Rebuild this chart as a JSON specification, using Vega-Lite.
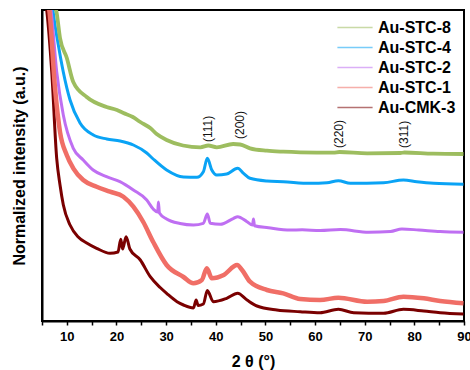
{
  "$schema": "https://vega.github.io/schema/vega-lite/v6.json",
  "width": 422,
  "height": 311,
  "autosize": {"type": "none"},
  "padding": {"left": 42, "top": 10, "right": 6, "bottom": 49},
  "background": "white",
  "config": {
    "font": "Liberation Sans",
    "view": {"stroke": "black", "strokeWidth": 2},
    "axis": {"grid": false, "domainColor": "black", "domainWidth": 2, "tickColor": "black", "labelColor": "black", "titleColor": "black"}
  },
  "datasets": {
    "curves": [
      {"series": "Au-STC-8", "theta": 7.2, "intensity": 321},
      {"series": "Au-STC-8", "theta": 7.96, "intensity": 308},
      {"series": "Au-STC-8", "theta": 8.63, "intensity": 283},
      {"series": "Au-STC-8", "theta": 10.0, "intensity": 263},
      {"series": "Au-STC-8", "theta": 11.3, "intensity": 239},
      {"series": "Au-STC-8", "theta": 14.0, "intensity": 224},
      {"series": "Au-STC-8", "theta": 18.0, "intensity": 214},
      {"series": "Au-STC-8", "theta": 20.1, "intensity": 211},
      {"series": "Au-STC-8", "theta": 21.4, "intensity": 208},
      {"series": "Au-STC-8", "theta": 23.3, "intensity": 204},
      {"series": "Au-STC-8", "theta": 24.8, "intensity": 199},
      {"series": "Au-STC-8", "theta": 26.8, "intensity": 193},
      {"series": "Au-STC-8", "theta": 28.1, "intensity": 187},
      {"series": "Au-STC-8", "theta": 30.1, "intensity": 181},
      {"series": "Au-STC-8", "theta": 33.4, "intensity": 175.5},
      {"series": "Au-STC-8", "theta": 36.9, "intensity": 173.7},
      {"series": "Au-STC-8", "theta": 38.5, "intensity": 175.5},
      {"series": "Au-STC-8", "theta": 40.2, "intensity": 173.7},
      {"series": "Au-STC-8", "theta": 43.5, "intensity": 177},
      {"series": "Au-STC-8", "theta": 44.9, "intensity": 176.5},
      {"series": "Au-STC-8", "theta": 46.9, "intensity": 172.7},
      {"series": "Au-STC-8", "theta": 50.3, "intensity": 170.3},
      {"series": "Au-STC-8", "theta": 53.6, "intensity": 169.3},
      {"series": "Au-STC-8", "theta": 57.0, "intensity": 168.7},
      {"series": "Au-STC-8", "theta": 63.7, "intensity": 168.3},
      {"series": "Au-STC-8", "theta": 64.9, "intensity": 169},
      {"series": "Au-STC-8", "theta": 70.5, "intensity": 167.7},
      {"series": "Au-STC-8", "theta": 77.2, "intensity": 168},
      {"series": "Au-STC-8", "theta": 78.0, "intensity": 168.5},
      {"series": "Au-STC-8", "theta": 83.8, "intensity": 167.3},
      {"series": "Au-STC-8", "theta": 89.9, "intensity": 167},

      {"series": "Au-STC-4", "theta": 7.0, "intensity": 321},
      {"series": "Au-STC-4", "theta": 7.28, "intensity": 308},
      {"series": "Au-STC-4", "theta": 8.29, "intensity": 276},
      {"series": "Au-STC-4", "theta": 9.29, "intensity": 249},
      {"series": "Au-STC-4", "theta": 10.65, "intensity": 221},
      {"series": "Au-STC-4", "theta": 12.66, "intensity": 198},
      {"series": "Au-STC-4", "theta": 15.34, "intensity": 186},
      {"series": "Au-STC-4", "theta": 18.04, "intensity": 182},
      {"series": "Au-STC-4", "theta": 20.73, "intensity": 180},
      {"series": "Au-STC-4", "theta": 23.41, "intensity": 176},
      {"series": "Au-STC-4", "theta": 26.1, "intensity": 168},
      {"series": "Au-STC-4", "theta": 27.4, "intensity": 162},
      {"series": "Au-STC-4", "theta": 30.1, "intensity": 151},
      {"series": "Au-STC-4", "theta": 33.5, "intensity": 144},
      {"series": "Au-STC-4", "theta": 36.2, "intensity": 143.7},
      {"series": "Au-STC-4", "theta": 37.5, "intensity": 149.3},
      {"series": "Au-STC-4", "theta": 38.3, "intensity": 162.7},
      {"series": "Au-STC-4", "theta": 39.2, "intensity": 151},
      {"series": "Au-STC-4", "theta": 40.2, "intensity": 146},
      {"series": "Au-STC-4", "theta": 42.2, "intensity": 147},
      {"series": "Au-STC-4", "theta": 44.4, "intensity": 152.7},
      {"series": "Au-STC-4", "theta": 45.6, "intensity": 147.7},
      {"series": "Au-STC-4", "theta": 46.9, "intensity": 142.7},
      {"series": "Au-STC-4", "theta": 50.3, "intensity": 140},
      {"series": "Au-STC-4", "theta": 53.6, "intensity": 139.3},
      {"series": "Au-STC-4", "theta": 59.0, "intensity": 137.7},
      {"series": "Au-STC-4", "theta": 62.4, "intensity": 138.3},
      {"series": "Au-STC-4", "theta": 64.7, "intensity": 140.3},
      {"series": "Au-STC-4", "theta": 67.1, "intensity": 137.7},
      {"series": "Au-STC-4", "theta": 73.8, "intensity": 138.3},
      {"series": "Au-STC-4", "theta": 77.8, "intensity": 141},
      {"series": "Au-STC-4", "theta": 80.5, "intensity": 139.3},
      {"series": "Au-STC-4", "theta": 83.9, "intensity": 137.7},
      {"series": "Au-STC-4", "theta": 89.9, "intensity": 136.7},

      {"series": "Au-STC-2", "theta": 6.5, "intensity": 321},
      {"series": "Au-STC-2", "theta": 6.81, "intensity": 311},
      {"series": "Au-STC-2", "theta": 7.96, "intensity": 249.3},
      {"series": "Au-STC-2", "theta": 9.29, "intensity": 206},
      {"series": "Au-STC-2", "theta": 11.3, "intensity": 172.7},
      {"series": "Au-STC-2", "theta": 13.3, "intensity": 161},
      {"series": "Au-STC-2", "theta": 15.3, "intensity": 151},
      {"series": "Au-STC-2", "theta": 18.0, "intensity": 144.3},
      {"series": "Au-STC-2", "theta": 20.7, "intensity": 139.3},
      {"series": "Au-STC-2", "theta": 23.4, "intensity": 131},
      {"series": "Au-STC-2", "theta": 26.1, "intensity": 121},
      {"series": "Au-STC-2", "theta": 27.4, "intensity": 112},
      {"series": "Au-STC-2", "theta": 28.3, "intensity": 109},
      {"series": "Au-STC-2", "theta": 28.45, "intensity": 119},
      {"series": "Au-STC-2", "theta": 28.65, "intensity": 108},
      {"series": "Au-STC-2", "theta": 30.1, "intensity": 102},
      {"series": "Au-STC-2", "theta": 32.8, "intensity": 97.5},
      {"series": "Au-STC-2", "theta": 35.5, "intensity": 96},
      {"series": "Au-STC-2", "theta": 37.5, "intensity": 97.7},
      {"series": "Au-STC-2", "theta": 38.3, "intensity": 107},
      {"series": "Au-STC-2", "theta": 38.9, "intensity": 97.7},
      {"series": "Au-STC-2", "theta": 40.9, "intensity": 96.7},
      {"series": "Au-STC-2", "theta": 43.6, "intensity": 102.7},
      {"series": "Au-STC-2", "theta": 44.4, "intensity": 104.3},
      {"series": "Au-STC-2", "theta": 46.3, "intensity": 99.3},
      {"series": "Au-STC-2", "theta": 47.4, "intensity": 96},
      {"series": "Au-STC-2", "theta": 47.6, "intensity": 102},
      {"series": "Au-STC-2", "theta": 47.8, "intensity": 95.3},
      {"series": "Au-STC-2", "theta": 50.6, "intensity": 93.3},
      {"series": "Au-STC-2", "theta": 55.0, "intensity": 91},
      {"series": "Au-STC-2", "theta": 57.4, "intensity": 91.2},
      {"series": "Au-STC-2", "theta": 61.0, "intensity": 90.5},
      {"series": "Au-STC-2", "theta": 65.1, "intensity": 91.5},
      {"series": "Au-STC-2", "theta": 70.8, "intensity": 88.7},
      {"series": "Au-STC-2", "theta": 75.2, "intensity": 89.5},
      {"series": "Au-STC-2", "theta": 77.5, "intensity": 92},
      {"series": "Au-STC-2", "theta": 80.9, "intensity": 91},
      {"series": "Au-STC-2", "theta": 85.2, "intensity": 89.5},
      {"series": "Au-STC-2", "theta": 89.9, "intensity": 88.7},

      {"series": "Au-STC-1", "theta": 6.1, "intensity": 321},
      {"series": "Au-STC-1", "theta": 6.47, "intensity": 311},
      {"series": "Au-STC-1", "theta": 7.62, "intensity": 233},
      {"series": "Au-STC-1", "theta": 8.63, "intensity": 189},
      {"series": "Au-STC-1", "theta": 9.98, "intensity": 166},
      {"series": "Au-STC-1", "theta": 11.3, "intensity": 152.7},
      {"series": "Au-STC-1", "theta": 13.3, "intensity": 141},
      {"series": "Au-STC-1", "theta": 16.0, "intensity": 134.3},
      {"series": "Au-STC-1", "theta": 18.7, "intensity": 129.3},
      {"series": "Au-STC-1", "theta": 21.4, "intensity": 124.3},
      {"series": "Au-STC-1", "theta": 23.4, "intensity": 114.3},
      {"series": "Au-STC-1", "theta": 25.4, "intensity": 99},
      {"series": "Au-STC-1", "theta": 27.4, "intensity": 79},
      {"series": "Au-STC-1", "theta": 30.1, "intensity": 56},
      {"series": "Au-STC-1", "theta": 33.5, "intensity": 44},
      {"series": "Au-STC-1", "theta": 35.5, "intensity": 37.7},
      {"series": "Au-STC-1", "theta": 37.2, "intensity": 41},
      {"series": "Au-STC-1", "theta": 38.2, "intensity": 52.7},
      {"series": "Au-STC-1", "theta": 39.2, "intensity": 42.7},
      {"series": "Au-STC-1", "theta": 41.6, "intensity": 46},
      {"series": "Au-STC-1", "theta": 44.3, "intensity": 56},
      {"series": "Au-STC-1", "theta": 45.3, "intensity": 51},
      {"series": "Au-STC-1", "theta": 46.9, "intensity": 39.3},
      {"series": "Au-STC-1", "theta": 50.3, "intensity": 31},
      {"series": "Au-STC-1", "theta": 53.6, "intensity": 27.7},
      {"series": "Au-STC-1", "theta": 57.0, "intensity": 22},
      {"series": "Au-STC-1", "theta": 61.0, "intensity": 21},
      {"series": "Au-STC-1", "theta": 64.7, "intensity": 23.3},
      {"series": "Au-STC-1", "theta": 70.5, "intensity": 19.3},
      {"series": "Au-STC-1", "theta": 73.8, "intensity": 20},
      {"series": "Au-STC-1", "theta": 77.8, "intensity": 24.3},
      {"series": "Au-STC-1", "theta": 81.9, "intensity": 22.7},
      {"series": "Au-STC-1", "theta": 85.2, "intensity": 20},
      {"series": "Au-STC-1", "theta": 89.9, "intensity": 17.7},

      {"series": "Au-CMK-3", "theta": 5.7, "intensity": 321},
      {"series": "Au-CMK-3", "theta": 5.95, "intensity": 311},
      {"series": "Au-CMK-3", "theta": 6.96, "intensity": 249.3},
      {"series": "Au-CMK-3", "theta": 7.96, "intensity": 162.7},
      {"series": "Au-CMK-3", "theta": 8.63, "intensity": 136},
      {"series": "Au-CMK-3", "theta": 9.3, "intensity": 116},
      {"series": "Au-CMK-3", "theta": 10.65, "intensity": 96},
      {"series": "Au-CMK-3", "theta": 12.3, "intensity": 84},
      {"series": "Au-CMK-3", "theta": 14.0, "intensity": 78},
      {"series": "Au-CMK-3", "theta": 16.0, "intensity": 72.7},
      {"series": "Au-CMK-3", "theta": 18.7, "intensity": 67.7},
      {"series": "Au-CMK-3", "theta": 20.3, "intensity": 69},
      {"series": "Au-CMK-3", "theta": 20.87, "intensity": 81.7},
      {"series": "Au-CMK-3", "theta": 21.23, "intensity": 72},
      {"series": "Au-CMK-3", "theta": 21.94, "intensity": 84.3},
      {"series": "Au-CMK-3", "theta": 22.7, "intensity": 72},
      {"series": "Au-CMK-3", "theta": 24.8, "intensity": 61},
      {"series": "Au-CMK-3", "theta": 26.8, "intensity": 44.3},
      {"series": "Au-CMK-3", "theta": 28.8, "intensity": 33.5},
      {"series": "Au-CMK-3", "theta": 30.1, "intensity": 27.7},
      {"series": "Au-CMK-3", "theta": 32.2, "intensity": 19.3},
      {"series": "Au-CMK-3", "theta": 33.5, "intensity": 16},
      {"series": "Au-CMK-3", "theta": 35.5, "intensity": 13},
      {"series": "Au-CMK-3", "theta": 36.05, "intensity": 21},
      {"series": "Au-CMK-3", "theta": 36.45, "intensity": 15.5},
      {"series": "Au-CMK-3", "theta": 37.5, "intensity": 17},
      {"series": "Au-CMK-3", "theta": 38.3, "intensity": 30.5},
      {"series": "Au-CMK-3", "theta": 39.5, "intensity": 19.3},
      {"series": "Au-CMK-3", "theta": 42.2, "intensity": 22.7},
      {"series": "Au-CMK-3", "theta": 44.4, "intensity": 27.7},
      {"series": "Au-CMK-3", "theta": 46.3, "intensity": 21},
      {"series": "Au-CMK-3", "theta": 48.3, "intensity": 15},
      {"series": "Au-CMK-3", "theta": 52.3, "intensity": 11},
      {"series": "Au-CMK-3", "theta": 57.0, "intensity": 9.3},
      {"series": "Au-CMK-3", "theta": 61.0, "intensity": 8.3},
      {"series": "Au-CMK-3", "theta": 64.7, "intensity": 11.7},
      {"series": "Au-CMK-3", "theta": 67.8, "intensity": 8.3},
      {"series": "Au-CMK-3", "theta": 73.8, "intensity": 7.7},
      {"series": "Au-CMK-3", "theta": 77.8, "intensity": 11.7},
      {"series": "Au-CMK-3", "theta": 81.9, "intensity": 10},
      {"series": "Au-CMK-3", "theta": 85.2, "intensity": 8.3},
      {"series": "Au-CMK-3", "theta": 89.9, "intensity": 7}
    ],
    "peaks": [
      {"label": "(111)", "theta": 38.5, "intensity": 179},
      {"label": "(200)", "theta": 44.9, "intensity": 182},
      {"label": "(220)", "theta": 64.9, "intensity": 173},
      {"label": "(311)", "theta": 78.0, "intensity": 173}
    ]
  },
  "encoding": {
    "x": {
      "field": "theta", "type": "quantitative",
      "scale": {"domain": [5, 90], "nice": false, "zero": false},
      "axis": {
        "title": "2 θ (°)", "titleFontSize": 16, "titleFontWeight": "bold", "titlePadding": 10,
        "values": [5, 10, 15, 20, 25, 30, 35, 40, 45, 50, 55, 60, 65, 70, 75, 80, 85, 90],
        "labelExpr": "datum.value % 10 == 0 ? format(datum.value, 'd') : ''",
        "labelFontSize": 13, "labelFontWeight": "bold", "labelPadding": 5,
        "tickSize": 4, "tickWidth": 1.5, "labelFlush": false, "labelOverlap": false, "labelBound": false
      }
    },
    "y": {
      "field": "intensity", "type": "quantitative",
      "scale": {"domain": [0, 311], "nice": false, "zero": false},
      "axis": {
        "title": "Normalized intensity (a.u.)", "titleFontSize": 16, "titleFontWeight": "bold",
        "labels": false, "ticks": false, "titlePadding": 15
      }
    },
    "color": {
      "field": "series", "type": "nominal",
      "scale": {
        "domain": ["Au-STC-8", "Au-STC-4", "Au-STC-2", "Au-STC-1", "Au-CMK-3"],
        "range": ["#9dbd5f", "#0aa3f5", "#bf6ff2", "#f06e66", "#7a0000"]
      },
      "legend": {
        "title": null, "orient": "none", "legendX": 304, "legendY": 8.5,
        "symbolType": "M-2.2,0H2.2", "symbolSize": 256, "symbolStrokeWidth": 1.5, "symbolOpacity": 0.55,
        "labelFontSize": 16, "labelFontWeight": "bold", "labelColor": "black", "labelOffset": 14,
        "rowPadding": 3
      }
    },
    "order": {"field": "theta", "type": "quantitative"}
  },
  "layer": [
    {
      "data": {"name": "curves"},
      "transform": [{"filter": {"field": "series", "oneOf": ["Au-STC-4", "Au-STC-2", "Au-CMK-3"]}}],
      "mark": {"type": "line", "clip": true, "strokeJoin": "round", "interpolate": "monotone", "strokeWidth": 3}
    },
    {
      "data": {"name": "curves"},
      "transform": [{"filter": {"field": "series", "equal": "Au-STC-8"}}],
      "mark": {"type": "line", "clip": true, "strokeJoin": "round", "interpolate": "monotone", "strokeWidth": 3.8}
    },
    {
      "data": {"name": "curves"},
      "transform": [{"filter": {"field": "series", "equal": "Au-STC-1"}}],
      "mark": {"type": "line", "clip": true, "strokeJoin": "round", "interpolate": "monotone", "strokeWidth": 4.5}
    },
    {
      "data": {"name": "peaks"},
      "mark": {"type": "text", "angle": 270, "align": "left", "baseline": "middle", "fontSize": 12, "color": "#111111"},
      "encoding": {
        "color": {"value": "#111111"},
        "order": null,
        "text": {"field": "label"}
      }
    }
  ]
}
